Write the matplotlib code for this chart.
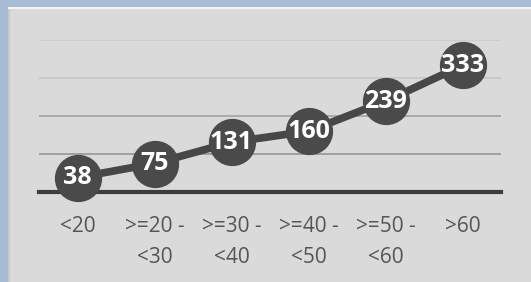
import matplotlib.pyplot as plt
from matplotlib.patches import Rectangle

# age groups and counts
categories = ["<20", ">=20 -\n<30", ">=30 -\n<40", ">=40 -\n<50", ">=50 -\n<60", ">60"]
counts = [38, 75, 131, 160, 239, 333]
grid_levels = [100, 200, 300, 400]
grid_colors = ["#969696", "#a2a2a2", "#c6c6c6", "#cbcbcb"]

W, H = 531, 282
fig = plt.figure(figsize=(W / 100, H / 100), dpi=100)
fig.patch.set_facecolor("#a9bcd6")

# grey panel with light top edge
for rect, col in [((8 / W, 0, 1 - 8 / W, 1 - 7 / H), "#dadada"),
                  ((8 / W, 1 - 8.5 / H, 1 - 8 / W, 1.5 / H), "#f4f4f4"),
                  ((8 / W, 0, 2 / W, 1 - 8.5 / H), "#c9c9c9")]:
    fig.patches.append(Rectangle(rect[:2], rect[2], rect[3], transform=fig.transFigure,
                                 facecolor=col, edgecolor="none", zorder=-5))

ax = fig.add_axes([39 / W, (H - 192) / H, 462 / W, 152 / H])
ax.set_facecolor("none")
ax.set_xlim(-0.5, len(categories) - 0.5)
ax.set_ylim(0, 400)

for lvl, c in zip(grid_levels, grid_colors):
    ax.axhline(lvl, color=c, lw=1.2, zorder=1)
ax.axhline(0, color="#3d3d3d", lw=3, zorder=2, clip_on=False)

x = range(len(categories))
ax.plot(x, counts, color="#474747", lw=5.5, zorder=3, clip_on=False,
        marker="o", markersize=33, markerfacecolor="#4a4a4a", markeredgecolor="#4a4a4a")

for xi, v in zip(x, counts):
    ax.text(xi, v, str(v), ha="center", va="center", color="white",
            fontsize=18, fontweight="bold", family="Open Sans", zorder=4, clip_on=False)

for s in ax.spines.values():
    s.set_visible(False)
ax.set_yticks([])
ax.set_xticks(list(x))
ax.set_xticklabels(categories, color="#555555", fontsize=15, family="Open Sans", linespacing=1.62)
ax.tick_params(axis="x", length=0, pad=17)

fig.savefig("out.png", dpi=100, facecolor=fig.get_facecolor())
